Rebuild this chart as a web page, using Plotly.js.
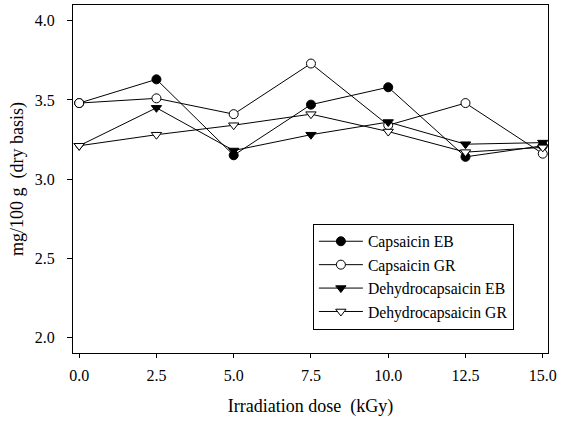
<!DOCTYPE html>
<html>
<head>
<meta charset="utf-8">
<script src="https://cdn.plot.ly/plotly-3.0.1.min.js"></script>
<style>html,body{margin:0;padding:0;background:#fff}#chart{width:570px;height:421px}</style>
</head>
<body>
<div id="chart"></div>
<script>
const dose = [0, 2.5, 5, 7.5, 10, 12.5, 15];
const capsaicinEB = [3.48, 3.63, 3.15, 3.47, 3.58, 3.14, 3.21];
const capsaicinGR = [3.48, 3.51, 3.41, 3.73, 3.34, 3.48, 3.16];
const dehydroEB = [3.21, 3.45, 3.18, 3.28, 3.36, 3.22, 3.23];
const dehydroGR = [3.21, 3.28, 3.34, 3.41, 3.30, 3.17, 3.20];
const xTicks = [0, 2.5, 5, 7.5, 10, 12.5, 15];
const xTickText = ['0.0', '2.5', '5.0', '7.5', '10.0', '12.5', '15.0'];
const yTicks = [2.0, 2.5, 3.0, 3.5, 4.0];
const yTickText = ['2.0', '2.5', '3.0', '3.5', '4.0'];

const font = 'Liberation Serif, Times New Roman, serif';
function tr(name, y, symbol, fill, g) {
  return {
    x: dose, y: y, name: name, type: 'scatter', mode: 'lines+markers',
    legendgroup: g,
    line: {color: '#000', width: 1},
    marker: {symbol: symbol, size: 9, color: fill, line: {color: '#000', width: 1}}
  };
}
const data = [
  tr('Capsaicin EB', capsaicinEB, 'circle', '#000', 'a'),
  tr('Capsaicin GR', capsaicinGR, 'circle', '#fff', 'b'),
  tr('Dehydrocapsaicin EB', dehydroEB, 'triangle-down', '#000', 'c'),
  tr('Dehydrocapsaicin GR', dehydroGR, 'triangle-down', '#fff', 'd')
];
const layout = {
  width: 570, height: 421,
  margin: {l: 73, r: 22, t: 5, b: 68},
  paper_bgcolor: '#fff', plot_bgcolor: '#fff',
  font: {family: font, color: '#000', size: 16},
  showlegend: true,
  legend: {
    x: 0.505, y: 0.372, xanchor: 'left', yanchor: 'top',
    bordercolor: '#000', borderwidth: 1, bgcolor: '#fff',
    font: {family: font, size: 15.7, color: '#000'},
    tracegroupgap: 0, traceorder: 'normal', itemwidth: 44
  },
  xaxis: {
    range: [-0.2, 15.17], tickvals: xTicks, ticktext: xTickText,
    showgrid: false, zeroline: false, showline: true, linecolor: '#000', linewidth: 1,
    mirror: true, ticks: 'outside', ticklen: 4, tickcolor: '#000',
    ticklabelstandoff: 4,
    tickfont: {family: font, size: 16},
    title: {text: 'Irradiation dose  (kGy)', font: {family: font, size: 18}, standoff: 16}
  },
  yaxis: {
    range: [1.9, 4.1], tickvals: yTicks, ticktext: yTickText,
    showgrid: false, zeroline: false, showline: true, linecolor: '#000', linewidth: 1,
    mirror: true, ticks: 'outside', ticklen: 5, tickcolor: '#000',
    ticklabelstandoff: 9,
    tickfont: {family: font, size: 16},
    title: {text: 'mg/100 g  (dry basis)', font: {family: font, size: 18}, standoff: 6}
  }
};
Plotly.newPlot('chart', data, layout, {displayModeBar: false, staticPlot: true});
</script>
</body>
</html>
